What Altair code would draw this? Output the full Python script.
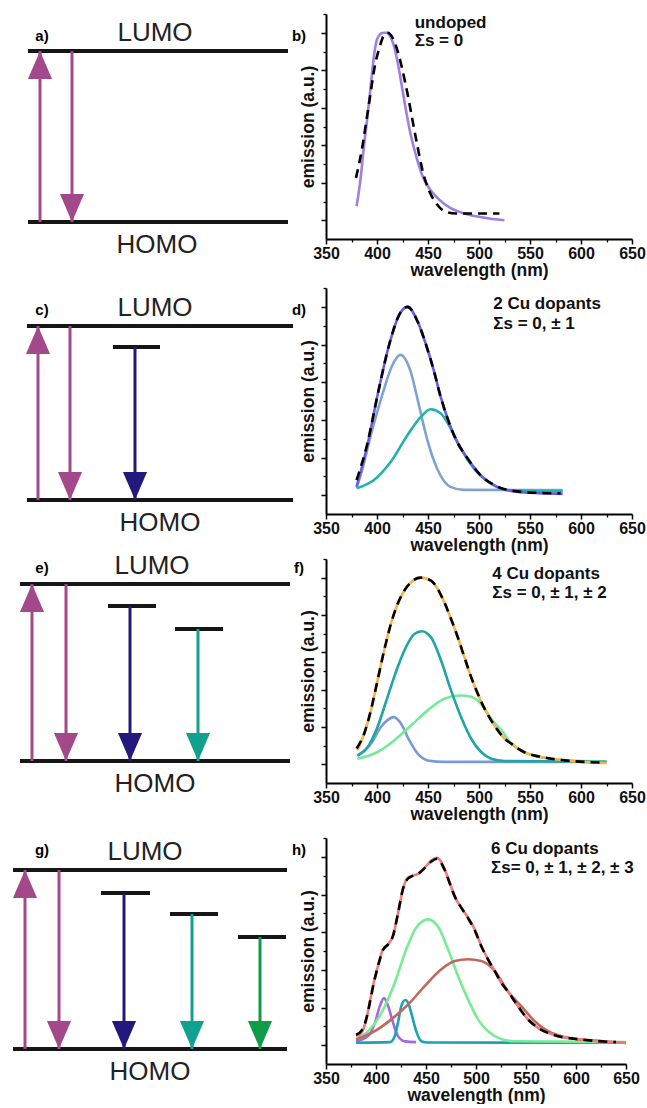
import altair as alt
import pandas as pd

FONT = "Liberation Sans"

# ------------------------------------------------------------------
# Spectra (wavelength in nm, normalised emission)
# ------------------------------------------------------------------
# b) undoped
B_EXP_WL = [380, 384, 387, 390.5, 394, 397, 400, 405, 409, 413, 418, 423, 428, 433, 438, 444, 451, 461, 471, 484, 497, 510, 525]
B_EXP = [0.075, 0.226, 0.386, 0.546, 0.724, 0.875, 0.964, 0.999, 1.0, 0.981, 0.901, 0.759, 0.599, 0.457, 0.35, 0.244, 0.172, 0.11, 0.069, 0.039, 0.021, 0.009, 0.0]
B_FIT_WL = [379.4, 386, 389, 393.5, 397.5, 402.3, 407.2, 410.5, 415.4, 420.3, 425.2, 430.1, 435, 440, 444.8, 451.3, 457.8, 467.6, 477.5, 520]
B_FIT = [0.226, 0.404, 0.51, 0.67, 0.812, 0.919, 0.99, 1.0, 0.972, 0.901, 0.795, 0.67, 0.528, 0.386, 0.261, 0.155, 0.092, 0.044, 0.036, 0.036]

# d) 2 Cu dopants
D_EXP_WL = [380, 390.8, 400.5, 412, 422, 430, 440, 448, 456, 462, 469, 477, 488.5, 501.5, 518, 537, 560, 582]
D_EXP = [0.045, 0.27, 0.53, 0.80, 0.96, 1.0, 0.92, 0.80, 0.656, 0.53, 0.41, 0.30, 0.197, 0.106, 0.044, 0.018, 0.01, 0.006]
D_FIT_WL = [380, 390.8, 400.5, 412, 422, 430, 440, 448, 456, 462, 469, 477, 488.5, 501.5, 518, 537, 560, 580]
D_FIT = [0.08, 0.28, 0.53, 0.80, 0.96, 1.0, 0.92, 0.80, 0.656, 0.53, 0.41, 0.30, 0.197, 0.106, 0.046, 0.02, 0.012, 0.01]
D_C1_WL = [380, 384, 394, 405, 415, 423, 433, 441, 449, 459, 472, 485, 582]
D_C1 = [0.04, 0.106, 0.32, 0.53, 0.69, 0.745, 0.656, 0.48, 0.30, 0.14, 0.044, 0.028, 0.027]
D_C2_WL = [380, 397, 413.5, 430, 443, 452.6, 462.4, 472.2, 482, 495, 511.3, 527.6, 582]
D_C2 = [0.036, 0.08, 0.177, 0.32, 0.416, 0.456, 0.435, 0.355, 0.248, 0.142, 0.062, 0.027, 0.02]

# f) 4 Cu dopants
F_EXP_WL = [380.8, 387.4, 394, 400.5, 407, 413.6, 420.2, 426.7, 433.3, 443, 453, 459.5, 466, 472.6, 479.2, 485.7, 492.3, 498.8, 505.4, 512, 518.5, 525.1, 531.7, 538.2, 548, 557.8, 571, 584, 604, 625]
F_EXP = [0.075, 0.164, 0.289, 0.449, 0.61, 0.752, 0.859, 0.93, 0.975, 1.0, 0.984, 0.94, 0.868, 0.779, 0.681, 0.574, 0.467, 0.378, 0.298, 0.235, 0.182, 0.137, 0.111, 0.084, 0.057, 0.043, 0.03, 0.021, 0.012, 0.007]
F_FIT_WL = [380, 387.4, 394, 400.5, 407, 413.6, 420.2, 426.7, 433.3, 443, 453, 459.5, 466, 472.6, 479.2, 485.7, 492.3, 498.8, 505.4, 512, 518.5, 525.1, 531.7, 538.2, 548, 557.8, 571, 584, 604, 622]
F_FIT = [0.085, 0.164, 0.289, 0.449, 0.61, 0.752, 0.859, 0.93, 0.975, 1.0, 0.984, 0.94, 0.868, 0.779, 0.681, 0.574, 0.467, 0.378, 0.298, 0.235, 0.182, 0.137, 0.111, 0.084, 0.057, 0.043, 0.03, 0.021, 0.013, 0.009]
F_C1_WL = [380.8, 394, 403.8, 410.3, 416.2, 423.5, 431.7, 439.9, 449.7, 466, 625]
F_C1 = [0.047, 0.11, 0.2, 0.237, 0.253, 0.219, 0.128, 0.057, 0.021, 0.013, 0.013]
F_C2_WL = [380.8, 390.6, 400.5, 410.3, 420.2, 430, 436.6, 444, 453, 462.8, 472.6, 482.4, 492.3, 502.1, 512, 525, 625]
F_C2 = [0.047, 0.09, 0.2, 0.36, 0.52, 0.645, 0.698, 0.713, 0.68, 0.556, 0.396, 0.253, 0.137, 0.066, 0.03, 0.018, 0.014]
F_C3_WL = [380.8, 400.5, 416.9, 433.3, 449.7, 466, 481.7, 492.3, 502, 512, 521.8, 531.7, 548, 571, 604, 625]
F_C3 = [0.03, 0.066, 0.128, 0.208, 0.289, 0.351, 0.369, 0.362, 0.324, 0.244, 0.183, 0.111, 0.057, 0.03, 0.017, 0.012]

# h) 6 Cu dopants
H_EXP_WL = [380.3, 385.3, 390.3, 393.7, 397, 402, 407, 412, 417, 422, 427, 432, 437, 442, 448.7, 455.3, 460.3, 463.7, 468.7, 473.7, 478.7, 485.3, 492, 498.7, 505.3, 512, 518.7, 525.3, 532, 542, 552, 562, 572, 585.3, 598.7, 612, 630, 650]
H_EXP = [0.048, 0.065, 0.137, 0.225, 0.314, 0.42, 0.51, 0.535, 0.58, 0.70, 0.83, 0.89, 0.90, 0.91, 0.943, 0.98, 0.995, 0.985, 0.934, 0.863, 0.79, 0.73, 0.677, 0.615, 0.527, 0.456, 0.394, 0.331, 0.285, 0.207, 0.137, 0.092, 0.065, 0.044, 0.034, 0.027, 0.018, 0.012]
H_FIT_WL = [380, 385.3, 390.3, 394, 397, 402, 407, 412, 417, 422, 427, 432, 437, 442, 448.7, 455.3, 461, 468.7, 473.7, 478.7, 485.3, 492, 498.7, 505.3, 512, 518.7, 525.3, 532, 542, 552, 562, 572, 585.3, 598.7, 612, 640]
H_FIT = [0.055, 0.075, 0.14, 0.23, 0.31, 0.42, 0.505, 0.535, 0.58, 0.70, 0.83, 0.885, 0.90, 0.91, 0.94, 0.975, 0.99, 0.93, 0.86, 0.79, 0.73, 0.675, 0.61, 0.525, 0.455, 0.394, 0.331, 0.285, 0.207, 0.137, 0.092, 0.065, 0.044, 0.034, 0.026, 0.016]
H_C1_WL = [380, 392, 399, 404, 408, 412, 417, 422, 429, 440]
H_C1 = [0.02, 0.048, 0.12, 0.21, 0.25, 0.21, 0.12, 0.048, 0.02, 0.016]
H_C2_WL = [380, 413.7, 418.7, 422, 425.3, 429.3, 432.5, 435.3, 440.3, 445.3, 452, 650]
H_C2 = [0.013, 0.016, 0.048, 0.12, 0.207, 0.24, 0.22, 0.17, 0.073, 0.021, 0.014, 0.013]
H_C3_WL = [380, 392, 405.3, 418.7, 430.3, 440.3, 452, 462, 472, 482, 492, 502, 512, 525.3, 538.7, 650]
H_C3 = [0.033, 0.074, 0.17, 0.33, 0.51, 0.625, 0.668, 0.63, 0.51, 0.367, 0.243, 0.137, 0.074, 0.033, 0.021, 0.016]
H_C4_WL = [380.3, 398.7, 415.3, 432, 448.7, 465.3, 478.7, 492, 505.3, 518.7, 532, 545.3, 558.7, 572, 585.3, 598.7, 612, 650]
H_C4 = [0.03, 0.074, 0.137, 0.215, 0.314, 0.403, 0.447, 0.456, 0.447, 0.394, 0.285, 0.207, 0.127, 0.074, 0.048, 0.033, 0.027, 0.012]

# annotation texts of the spectra
SPEC_TEXT = [
    ["undoped", "\u03a3s = 0"],
    ["2 Cu dopants", "\u03a3s = 0, \u00b1 1"],
    ["4 Cu dopants", "\u03a3s = 0, \u00b1 1, \u00b1 2"],
    ["6 Cu dopants", "\u03a3s= 0, \u00b1 1, \u00b1 2, \u00b1 3"],
]
LEFT_LABELS = ["a)", "c)", "e)", "g)"]
RIGHT_LABELS = ["b)", "d)", "f)", "h)"]

# energy levels of the diagrams (HOMO = 0, LUMO = 1)
TRAP_E = [[], [0.879], [0.876, 0.746], [0.872, 0.754, 0.626]]

X_TICKS = [350, 400, 450, 500, 550, 600, 650]
X_MINOR = [375, 425, 475, 525, 575, 625]
Y_TICKS = [0, 0.2, 0.4, 0.6, 0.8, 1.0]
Y_MINOR = [0.1, 0.3, 0.5, 0.7, 0.9, 1.1]

# ------------------------------------------------------------------
# styling / layout
# ------------------------------------------------------------------
MAG = "#a3498b"
TRAP_COLORS = ["#24197a", "#11a190", "#0f9b47"]

SPECTRA = [
    ([(B_EXP_WL, B_EXP, "#9e7fe2")], (B_FIT_WL, B_FIT)),
    ([(D_C1_WL, D_C1, "#7fa2d2"), (D_C2_WL, D_C2, "#1fb3ae"), (D_EXP_WL, D_EXP, "#6a5ae8")], (D_FIT_WL, D_FIT)),
    ([(F_C1_WL, F_C1, "#7b99d6"), (F_C3_WL, F_C3, "#76ea98"), (F_C2_WL, F_C2, "#1ea6a6"), (F_EXP_WL, F_EXP, "#f7b347")], (F_FIT_WL, F_FIT)),
    ([(H_C1_WL, H_C1, "#a267e0"), (H_C2_WL, H_C2, "#18a4b6"), (H_C3_WL, H_C3, "#78ec94"), (H_C4_WL, H_C4, "#c0685c"), (H_EXP_WL, H_EXP, "#f47a78")], (H_FIT_WL, H_FIT)),
]
TEXT_POS = [(437, 1.052, 0.956), (514, 1.015, 0.909), (513, 1.02, 0.918), (515, 1.042, 0.94)]

SPEC_W = [306, 306, 306, 300]
SPEC_H = [225, 226, 224, 226]
DIAG_W = 296
DIAG_H = [234, 231, 239, 226]
GEOM = [
    dict(lumo=37, homo=208, x0=28, x1=288, up=40, down=72, traps=[], lumo_x=155, homo_x=157, lab_dy=-15),
    dict(lumo=38, homo=212, x0=27, x1=293, up=38, down=70, traps=[(113, 160, 135)], lumo_x=155, homo_x=160, lab_dy=-16),
    dict(lumo=25, homo=202, x0=20, x1=290, up=32, down=66, traps=[(108, 156, 130), (175, 223, 198)], lumo_x=152, homo_x=155, lab_dy=-16),
    dict(lumo=32, homo=211, x0=13, x1=287, up=25, down=59, traps=[(101, 150, 124), (170, 218, 192), (238, 286, 260)], lumo_x=145, homo_x=150, lab_dy=-20),
]
HEAD_UP = "M0,0L0.43,1L-0.43,1Z"
HEAD_DOWN = "M0,0L0.43,-1L-0.43,-1Z"


def diagram(i):
    g = GEOM[i]
    H = DIAG_H[i]
    unit = g["homo"] - g["lumo"]
    ys = alt.Scale(domain=[-(H - g["homo"]) / unit, 1 + g["lumo"] / unit], nice=False, zero=False)
    xs = alt.Scale(domain=[0, DIAG_W], nice=False, zero=False)

    lev = [dict(x=g["x0"], x2=g["x1"], e=1.0), dict(x=g["x0"], x2=g["x1"], e=0.0)]
    arrows = [dict(x=g["up"], e=0.0, e2=1.0, c=MAG, d="up"),
              dict(x=g["down"], e=1.0, e2=0.0, c=MAG, d="down")]
    for k, (a, b, ax) in enumerate(g["traps"]):
        lev.append(dict(x=a, x2=b, e=TRAP_E[i][k]))
        arrows.append(dict(x=ax, e=TRAP_E[i][k], e2=0.0, c=TRAP_COLORS[k], d="down"))
    lev = pd.DataFrame(lev)
    arrows = pd.DataFrame(arrows)

    X = lambda f: alt.X(f, scale=xs, axis=None)
    Y = lambda f: alt.Y(f, scale=ys, axis=None)

    levels = alt.Chart(lev).mark_rule(strokeWidth=4, color="#161616").encode(
        x=X("x:Q"), x2="x2:Q", y=Y("e:Q"))
    shafts = alt.Chart(arrows).mark_rule(strokeWidth=3).encode(
        x=X("x:Q"), y=Y("e:Q"), y2="e2:Q", color=alt.Color("c:N", scale=None))
    up = alt.Chart(arrows[arrows.d == "up"]).mark_point(
        shape=HEAD_UP, filled=True, size=3136, opacity=1).encode(
        x=X("x:Q"), y=Y("e2:Q"), color=alt.Color("c:N", scale=None))
    down = alt.Chart(arrows[arrows.d == "down"]).mark_point(
        shape=HEAD_DOWN, filled=True, size=3136, opacity=1).encode(
        x=X("x:Q"), y=Y("e2:Q"), color=alt.Color("c:N", scale=None))
    lumo = alt.Chart(pd.DataFrame([dict(x=g["lumo_x"], e=1.0, t="LUMO")])).mark_text(
        font=FONT, fontSize=26, color="#222222", baseline="alphabetic", dy=-10).encode(
        x=X("x:Q"), y=Y("e:Q"), text="t:N")
    homo = alt.Chart(pd.DataFrame([dict(x=g["homo_x"], e=0.0, t="HOMO")])).mark_text(
        font=FONT, fontSize=26, color="#222222", baseline="alphabetic", dy=31).encode(
        x=X("x:Q"), y=Y("e:Q"), text="t:N")
    labs = alt.Chart(pd.DataFrame([dict(x=42, e=1.0, t=LEFT_LABELS[i]),
                                   dict(x=299, e=1.0, t=RIGHT_LABELS[i])])).mark_text(
        font=FONT, fontSize=15, fontWeight="bold", color="black", baseline="middle", dy=g["lab_dy"]).encode(
        x=X("x:Q"), y=Y("e:Q"), text="t:N")
    return alt.layer(levels, shafts, up, down, lumo, homo, labs).properties(width=DIAG_W, height=H)


def spectrum(i):
    comps, fit = SPECTRA[i]
    rows = []
    for k, (wl, v, c) in enumerate(comps):
        for a, b in zip(wl, v):
            rows.append(dict(wl=a, v=b, s=k, c=c))
    df = pd.DataFrame(rows)
    fdf = pd.DataFrame(dict(wl=fit[0], v=fit[1]))
    tx, ty1, ty2 = TEXT_POS[i]
    tdf = pd.DataFrame([dict(wl=tx, v=ty1, t=SPEC_TEXT[i][0]), dict(wl=tx, v=ty2, t=SPEC_TEXT[i][1])])

    xs = alt.Scale(domain=[350, 650], nice=False, zero=False)
    ys = alt.Scale(domain=[-0.1, 1.1], nice=False, zero=False)

    major_x = alt.Axis(values=X_TICKS, orient="bottom", tickSize=5, tickWidth=1.5, tickColor="black",
                       domainColor="black", domainWidth=2, labelFont=FONT, labelFontSize=16,
                       labelFontWeight="bold", labelColor="#111111", labelPadding=1, labelFlush=False,
                       labelOverlap=False, format="d", grid=False, title="wavelength (nm)",
                       titleFont=FONT, titleFontSize=17.5, titleFontWeight="bold", titleColor="#111111",
                       titlePadding=0)
    minor_x = alt.Axis(values=X_MINOR, orient="bottom", tickSize=3, tickWidth=1.3, tickColor="black",
                       labels=False, domain=False, grid=False, title=None)
    major_y = alt.Axis(values=Y_TICKS, orient="left", tickSize=5, tickWidth=1.5, tickColor="black",
                       domainColor="black", domainWidth=2, labels=False, grid=False,
                       title="emission (a.u.)", titleFont=FONT, titleFontSize=17.5,
                       titleFontWeight="bold", titleColor="#111111", titlePadding=3)
    minor_y = alt.Axis(values=Y_MINOR, orient="left", tickSize=3, tickWidth=1.3, tickColor="black",
                       labels=False, domain=False, grid=False, title=None)

    lines = alt.Chart(df).mark_line(strokeWidth=2.6, interpolate="monotone").encode(
        x=alt.X("wl:Q", scale=xs, axis=major_x),
        y=alt.Y("v:Q", scale=ys, axis=major_y),
        color=alt.Color("c:N", scale=None),
        detail="s:N")
    dashed = alt.Chart(fdf).mark_line(strokeWidth=2.6, color="black", strokeDash=[9, 6],
                                      interpolate="monotone").encode(
        x=alt.X("wl:Q", scale=xs, axis=None), y=alt.Y("v:Q", scale=ys, axis=None))
    texts = alt.Chart(tdf).mark_text(font=FONT, fontSize=17, fontWeight="bold", color="#111111",
                                     align="left", baseline="middle").encode(
        x=alt.X("wl:Q", scale=xs, axis=minor_x), y=alt.Y("v:Q", scale=ys, axis=minor_y), text="t:N")
    return alt.layer(lines, dashed, texts).resolve_axis(x="independent", y="independent").properties(
        width=SPEC_W[i], height=SPEC_H[i])


panels = []
for i in range(4):
    panels.append(diagram(i))
    panels.append(spectrum(i))

chart = alt.concat(*panels, columns=2, spacing={"row": 40, "column": 30}, bounds="flush").properties(
    padding={"top": 13, "left": 0, "right": 0, "bottom": 0}
).configure(background="white").configure_view(stroke=None)

chart.save("out.html", embed_options={"renderer": "svg", "actions": False})
